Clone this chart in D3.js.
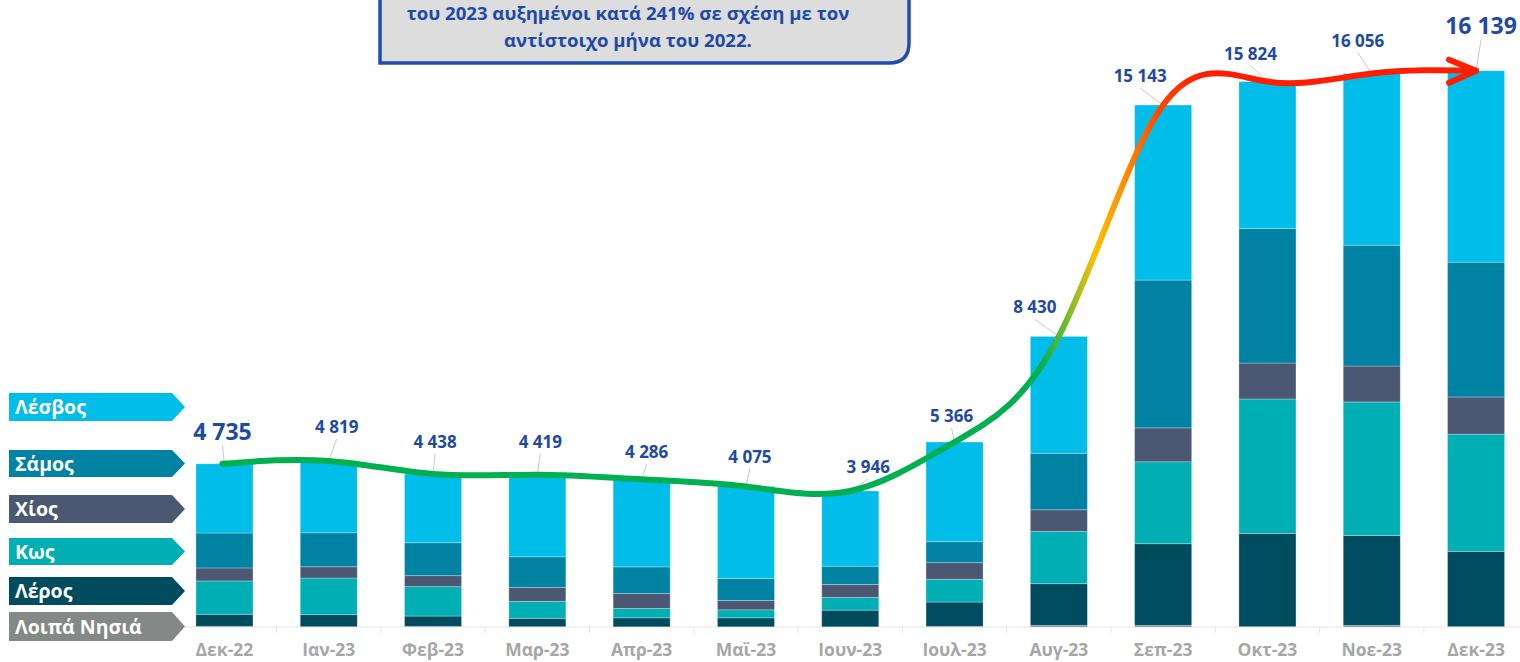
<!DOCTYPE html>
<html>
<head>
<meta charset="utf-8">
<script src="https://cdn.jsdelivr.net/npm/d3@7"></script>
<style>
  html, body { margin: 0; padding: 0; background: #ffffff; overflow: hidden; }
  svg { display: block; font-family: "Open Sans", "Noto Sans", sans-serif; }
</style>
</head>
<body>
<svg id="chart" width="1520" height="662"></svg>
<script>
// ---------------- DATA ----------------
const categories = ["Δεκ-22","Ιαν-23","Φεβ-23","Μαρ-23","Απρ-23","Μαϊ-23","Ιουν-23","Ιουλ-23","Αυγ-23","Σεπ-23","Οκτ-23","Νοε-23","Δεκ-23"];
const seriesNames = ["Λοιπά Νησιά","Λέρος","Κως","Χίος","Σάμος","Λέσβος"];
const others = [21, 10, 20, 10, 5, 5, 5, 20, 49, 49, 10, 49, 11];
const leros  = [348, 348, 298, 243, 261, 261, 484, 704, 1208, 2367, 2706, 2607, 2184];
const kos    = [967, 1063, 852, 492, 272, 232, 368, 658, 1515, 2376, 3899, 3873, 3398];
const chios  = [377, 327, 319, 406, 435, 272, 377, 484, 629, 985, 1043, 1043, 1081];
const samos  = [1014, 985, 956, 886, 771, 637, 530, 608, 1640, 4288, 3902, 3505, 3911];
const lesvos = [2008, 2086, 1993, 2382, 2542, 2668, 2182, 2892, 3389, 5078, 4264, 4979, 5554];
const titleLines = ["του 2023 αυξημένοι κατά 241% σε σχέση με τον", "αντίστοιχο μήνα του 2022."];

// ---------------- STYLE / LAYOUT ----------------
const colors = ["#818584", "#004c5f", "#00afb3", "#4a5874", "#0083a3", "#00bde9"];
const legendColors = ["#848886", "#004c5f", "#00afb3", "#4a5874", "#0083a3", "#00bde9"];
// label offsets relative to bar centre / bar top (layout only)
const labelOffsets = [[-2,-24],[8,-28],[2,-26],[3,-27],[5,-21],[4,-24],[18,-18],[-3,-20],[-24,-23],[-23,-23],[-17,-22],[-14,-27],[5,-37]];
const bigLabel = [true,false,false,false,false,false,false,false,false,false,false,false,true];
const labelBlue = "#1e49a8";

const svg = d3.select("#chart");
const seriesData = [others, leros, kos, chios, samos, lesvos];
const rows = categories.map((c, i) => {
  const r = { cat: c };
  seriesNames.forEach((s, k) => r[s] = seriesData[k][i]);
  return r;
});
const totals = categories.map((c, i) => d3.sum(seriesData, s => s[i]));

const x = d3.scaleBand().domain(categories).range([172.3, 1528.2]).paddingInner(0.453).paddingOuter(0.2265);
const y = d3.scaleLinear().domain([0, 18190]).range([627, 0]);

const stacked = d3.stack().keys(seriesNames)(rows);

// ---------------- TITLE BOX ----------------
const bx0 = 380, bx1 = 909, by0 = -20, by1 = 63, rr = 20;
svg.append("path")
  .attr("d", `M${bx0},${by0} L${bx1},${by0} L${bx1},${by1 - rr} Q${bx1},${by1} ${bx1 - rr},${by1} L${bx0},${by1} Z`)
  .attr("fill", "#dddddd")
  .attr("stroke", "#1f4eb0")
  .attr("stroke-width", 3.5);
svg.append("g").selectAll("text").data(titleLines).join("text")
  .attr("x", 628)
  .attr("y", (d, i) => 20 + i * 27)
  .attr("text-anchor", "middle")
  .attr("font-size", 18.6)
  .attr("font-weight", 700)
  .attr("fill", "#1e49a8")
  .text(d => d);

// ---------------- AXIS ----------------
const step = x.step();
const axisG = svg.append("g").attr("transform", "translate(0,627)");
axisG.append("line").attr("x1", 172).attr("x2", 1520).attr("y1", 0).attr("y2", 0)
  .attr("stroke", "#e3e3e3").attr("stroke-width", 1);
axisG.selectAll("line.tick").data(categories.slice(1)).join("line")
  .attr("class", "tick")
  .attr("x1", d => x(d) + x.bandwidth() / 2 - step / 2)
  .attr("x2", d => x(d) + x.bandwidth() / 2 - step / 2)
  .attr("y1", 0).attr("y2", 6)
  .attr("stroke", "#e3e3e3");
const xg = svg.append("g").attr("transform", "translate(0,627)").call(d3.axisBottom(x).tickSize(0).tickPadding(0));
xg.select(".domain").remove();
xg.selectAll("text")
  .attr("y", 29).attr("dy", 0)
  .attr("font-family", "Open Sans, sans-serif")
  .attr("font-size", 17.5)
  .attr("font-weight", 700)
  .attr("fill", "#a6a6a6");

// ---------------- BARS ----------------
svg.append("g").selectAll("g").data(stacked).join("g")
  .attr("fill", (d, i) => colors[i])
  .selectAll("rect").data(d => d).join("rect")
  .attr("x", d => x(d.data.cat))
  .attr("width", x.bandwidth())
  .attr("y", d => y(d[1]))
  .attr("height", d => Math.max(0, y(d[0]) - y(d[1])))
  .attr("stroke", "rgba(255,255,255,0.35)")
  .attr("stroke-width", 0.8);

// ---------------- LEADER LINES ----------------
const fmt = v => d3.format(",")(v).replace(/,/g, " ");
const cx = i => x(categories[i]) + x.bandwidth() / 2;
svg.append("g").selectAll("line").data(totals).join("line")
  .attr("x1", (d, i) => cx(i) + labelOffsets[i][0])
  .attr("y1", (d, i) => y(d) + labelOffsets[i][1] + 6)
  .attr("x2", (d, i) => cx(i))
  .attr("y2", (d, i) => y(d))
  .attr("stroke", "#c8c8c8").attr("stroke-width", 1);

// ---------------- TREND LINE ----------------
const defs = svg.append("defs");
const grad = defs.append("linearGradient").attr("id", "trendGrad")
  .attr("gradientUnits", "userSpaceOnUse")
  .attr("x1", 172).attr("x2", 1520).attr("y1", 0).attr("y2", 0);
const gStops = [[1040, "#00b050"], [1068, "#7cba2e"], [1096, "#ffc000"], [1125, "#ff8a00"], [1160, "#ff4400"], [1200, "#ff1e00"]];
gStops.forEach(([px, c]) => grad.append("stop").attr("offset", (px - 172) / (1520 - 172)).attr("stop-color", c));

const pts = totals.map((t, i) => [cx(i), y(t)]);
pts[0][0] -= 2;
svg.append("path").attr("d", d3.line().curve(d3.curveNatural)(pts))
  .attr("fill", "none")
  .attr("stroke", "url(#trendGrad)")
  .attr("stroke-width", 6)
  .attr("stroke-linecap", "round");
const tip = pts[pts.length - 1];
svg.append("path")
  .attr("d", `M${tip[0] - 27},${tip[1] - 11} L${tip[0]},${tip[1]} L${tip[0] - 27},${tip[1] + 12}`)
  .attr("fill", "none").attr("stroke", "#ff1e00").attr("stroke-width", 6)
  .attr("stroke-linecap", "round").attr("stroke-linejoin", "round");

// ---------------- VALUE LABELS ----------------
svg.append("g").selectAll("text").data(totals).join("text")
  .attr("x", (d, i) => cx(i) + labelOffsets[i][0])
  .attr("y", (d, i) => y(d) + labelOffsets[i][1])
  .attr("text-anchor", "middle")
  .attr("font-size", (d, i) => bigLabel[i] ? 23 : 17)
  .attr("font-weight", 700)
  .attr("fill", labelBlue)
  .text(d => fmt(d));

// ---------------- LEGEND (arrow tags) ----------------
const legendOrder = [5, 4, 3, 2, 1, 0];
const legendBoxes = [[393, 421], [450, 477], [495, 523], [538, 565], [577, 605], [612, 641]];
const lg = svg.append("g");
legendOrder.forEach((k, j) => {
  const [t, b] = legendBoxes[j];
  const m = (t + b) / 2;
  lg.append("path")
    .attr("d", `M9,${t} L172,${t} L185,${m} L172,${b} L9,${b} Z`)
    .attr("fill", legendColors[k]);
  lg.append("text")
    .attr("x", 15).attr("y", m + 7)
    .attr("font-size", 19.5).attr("font-weight", 700)
    .attr("fill", "#ffffff")
    .text(seriesNames[k]);
});
</script>
</body>
</html>
